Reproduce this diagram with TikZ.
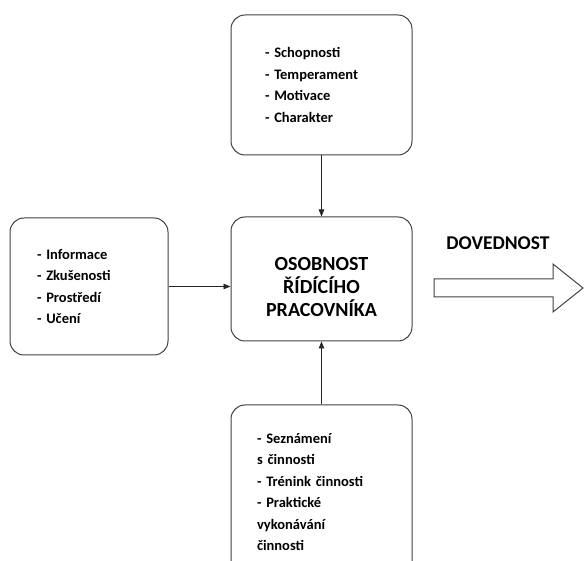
\documentclass[tikz,border=0pt]{standalone}
\usepackage{fontspec}
\setmainfont{Carlito}
\usepackage{tikz}
\usetikzlibrary{positioning,arrows.meta}
\definecolor{edge}{HTML}{404040}

\begin{document}
\begin{tikzpicture}[x=1pt, y=-1pt,
    listbox/.style={draw=edge, line width=1pt, rounded corners=14pt, align=left,
                    font=\fontsize{14.5}{21.5}\selectfont\bfseries, inner ysep=0pt},
    centerbox/.style={draw=edge, line width=1pt, rounded corners=14pt, align=center,
                      minimum width=181pt, minimum height=124pt,
                      font=\fontsize{20}{23}\selectfont\bfseries},
    arrow/.style={-{Triangle[length=7pt, width=5.5pt]}, line width=0.8pt, black!85},
    biglbl/.style={font=\fontsize{19.5}{23}\selectfont\bfseries}
  ]
    \useasboundingbox (0,0) rectangle (584,561);

    \node[centerbox] (osobnost) at (321.5,279) {
      \rule{0pt}{30pt}OSOBNOST\\
      ŘÍDÍCÍHO\\
      PRACOVNÍKA
    };
    \node[listbox, text width=113pt, inner xsep=34pt, minimum height=140pt] (vlastnosti) at (321.5,85) {
      - Schopnosti\\
      - Temperament\\
      - Motivace\\
      - Charakter
    };
    \node[listbox, text width=104pt, inner xsep=27pt, minimum height=137pt] (prostredi) at (89,286.5) {
      - Informace\\
      - Zkušenosti\\
      - Prostředí\\
      - Učení
    };
    \node[listbox, text width=129pt, inner xsep=26pt, minimum height=174pt] (cinnosti) at (321.5,492) {
      - Seznámení\\
      s činnosti\\
      - Trénink činnosti\\
      - Praktické\\
      vykonávání\\
      činnosti
    };

    \draw[arrow] (vlastnosti) -- (osobnost);
    \draw[arrow] (prostredi.east) -- (prostredi.east -| osobnost.west);
    \draw[arrow] (cinnosti) -- (osobnost);

    % vystup
    \node[biglbl] (dovednost) at (498,243) {DOVEDNOST};
    \draw[edge, line width=1pt] (434,279) -- (553,279) -- (553,264) -- (583,288)
      -- (553,312) -- (553,297) -- (434,297) -- cycle;
  \end{tikzpicture}
\end{document}
